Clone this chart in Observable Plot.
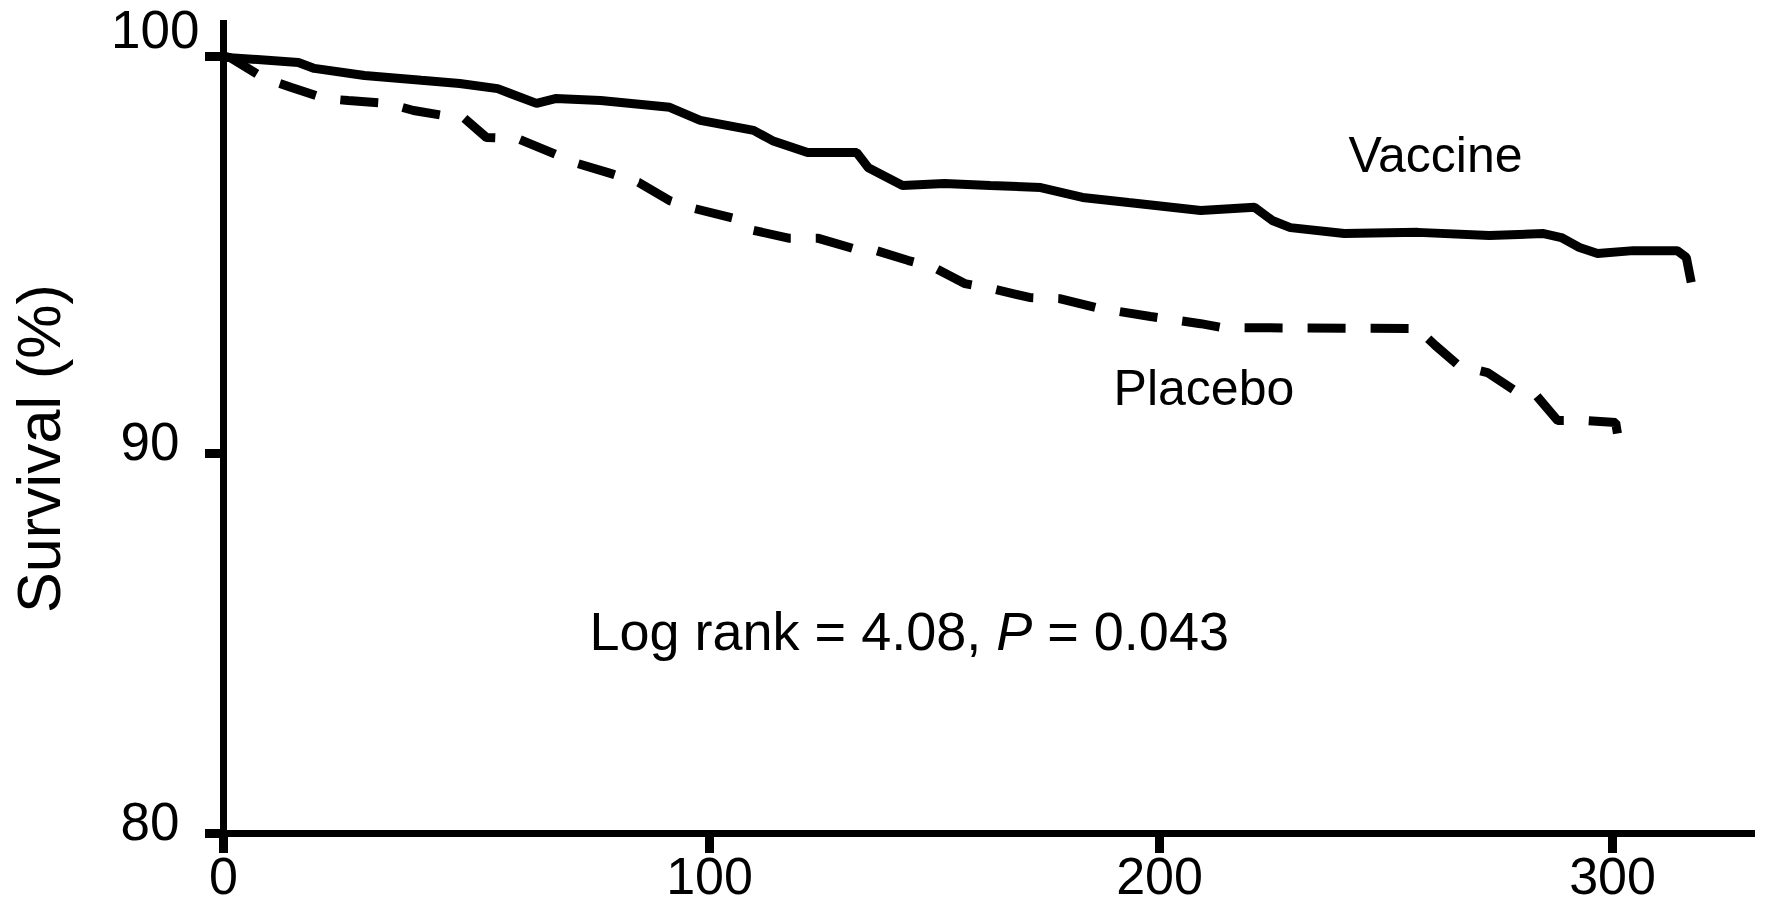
<!DOCTYPE html>
<html>
<head>
<meta charset="utf-8">
<script src="https://cdn.jsdelivr.net/npm/d3@7"></script>
<script src="https://cdn.jsdelivr.net/npm/@observablehq/plot@0.6"></script>
<style>
  body { margin: 0; background: #fff; }
  svg { display: block; }
</style>
</head>
<body>
<div id="chart"></div>
<script>
// ---- Data ----
const vaccineDays = [0,1.4,15.4,18.7,29,40.7,48.6,56.4,64.4,68.3,77.6,91.8,98.1,109.8,114,121.8,132.7,135.3,142.9,152.2,162.4,173.6,182.9,193.1,209.1,221,224.9,228.9,240.8,257,272.8,284.8,288.7,292.7,296.7,304.6,314.3,316.3,317.4];
const vaccineSurvival = [100,99.97,99.85,99.70,99.52,99.40,99.32,99.19,98.82,98.94,98.89,98.72,98.39,98.14,97.88,97.58,97.58,97.20,96.75,96.80,96.75,96.70,96.45,96.32,96.12,96.20,95.87,95.69,95.54,95.57,95.49,95.54,95.44,95.19,95.04,95.11,95.11,94.94,94.31];

const placeboDays = [0,1.4,8.4,14.0,21.0,25.7,33.7,39.1,45.5,49.4,54.1,60.5,67.5,73.0,79.8,85.4,91.8,96.9,105.6,109.8,117.8,124.2,132.0,137.1,144.2,149.8,156.7,162.4,171.1,177.8,186.9,198.0,209.1,213.9,257.6,258.1,260.9,266.0,272.4,278.4,283.2,287.9,294.3,300.7,301.1];
const placeboSurvival = [100,99.97,99.45,99.22,98.94,98.89,98.82,98.64,98.51,98.46,97.96,97.93,97.58,97.30,97.05,96.83,96.37,96.17,95.92,95.62,95.42,95.42,95.16,95.11,94.86,94.69,94.28,94.16,93.93,93.90,93.65,93.45,93.27,93.17,93.15,93.02,92.72,92.22,92.04,91.59,91.46,90.83,90.83,90.78,90.50];

const xTicks = [0, 100, 200, 300];
const yTicks = [80, 90, 100];
const yLabel = "Survival (%)";

const seriesLabels = ["Vaccine", "Placebo"];
const seriesLabelDays = [241.7, 189.8];
const seriesLabelSurvival = [97.08, 91.21];

const statText = "Log rank = 4.08, P = 0.043";
const statDay = [75.3];
const statSurvival = [84.82];

// ---- Tables built from the arrays ----
const vaccine = vaccineDays.map((t, i) => ({t, s: vaccineSurvival[i]}));
const placebo = placeboDays.map((t, i) => ({t, s: placeboSurvival[i]}));
const seriesText = seriesLabels.map((label, i) => ({label, t: seriesLabelDays[i], s: seriesLabelSurvival[i]}));
const stat = [{label: statText, t: statDay[0], s: statSurvival[0]}];

const font = '"Liberation Sans", Arial, Helvetica, sans-serif';

const plot = Plot.plot({
  width: 1766,
  height: 907,
  marginLeft: 223,
  marginRight: 11,
  marginTop: 20,
  marginBottom: 74,
  style: {fontFamily: font, color: "#000", background: "#fff", overflow: "visible"},
  x: {type: "linear", domain: [0, 100, 200, 300, 331.6], range: [223, 709, 1159, 1612, 1755]},
  y: {type: "linear", domain: [80, 90, 100, 100.91], range: [833, 453, 56, 20]},
  marks: [
    // axis lines
    Plot.ruleX([0], {stroke: "#000", strokeWidth: 7}),
    Plot.ruleY([80], {stroke: "#000", strokeWidth: 7}),
    // x axis
    Plot.axisX({ticks: xTicks, tickSize: 20, tickPadding: 4, strokeWidth: 9, fontSize: 52, label: null, tickFormat: d => String(d)}),
    // y ticks only
    Plot.axisY({ticks: yTicks, tickSize: 18, strokeWidth: 9, fill: "none", label: null}),
    // y tick labels
    Plot.axisY({ticks: yTicks.filter(d => d < 100), tickSize: 0, tickPadding: 44, stroke: "none", fontSize: 53, dy: -10, label: null, tickFormat: d => String(d)}),
    Plot.axisY({ticks: yTicks.filter(d => d >= 100), tickSize: 0, tickPadding: 24, stroke: "none", fontSize: 53, dy: -25, label: null, tickFormat: d => String(d)}),
    // curves
    Plot.line(vaccine, {x: "t", y: "s", stroke: "#000", strokeWidth: 9, strokeLinejoin: "miter", strokeLinecap: "butt"}),
    Plot.line(placebo, {x: "t", y: "s", stroke: "#000", strokeWidth: 9, strokeDasharray: "38,25", strokeLinejoin: "miter", strokeLinecap: "butt"}),
    // labels
    Plot.text(seriesText, {x: "t", y: "s", text: "label", textAnchor: "start", lineAnchor: "bottom", fontSize: 50, fill: "#000"}),
    Plot.text(stat, {x: "t", y: "s", text: "label", textAnchor: "start", lineAnchor: "bottom", fontSize: 54, fill: "#000"}),
    Plot.text([yLabel], {frameAnchor: "left", textAnchor: "middle", lineAnchor: "middle", rotate: -90, dx: -183, dy: 21.5, fontSize: 61, fill: "#000"})
  ]
});

// italic P in the statistics text
plot.querySelectorAll("text").forEach(el => {
  if (el.textContent === statText) {
    const ns = "http://www.w3.org/2000/svg";
    el.textContent = "";
    const parts = [["Log rank = 4.08, ", null], ["P", "italic"], [" = 0.043", null]];
    for (const [txt, style] of parts) {
      const ts = document.createElementNS(ns, "tspan");
      ts.textContent = txt;
      if (style) ts.setAttribute("font-style", style);
      el.appendChild(ts);
    }
    el.setAttribute("xml:space", "preserve");
    el.style.whiteSpace = "pre";
  }
});

document.getElementById("chart").appendChild(plot);
</script>
</body>
</html>
